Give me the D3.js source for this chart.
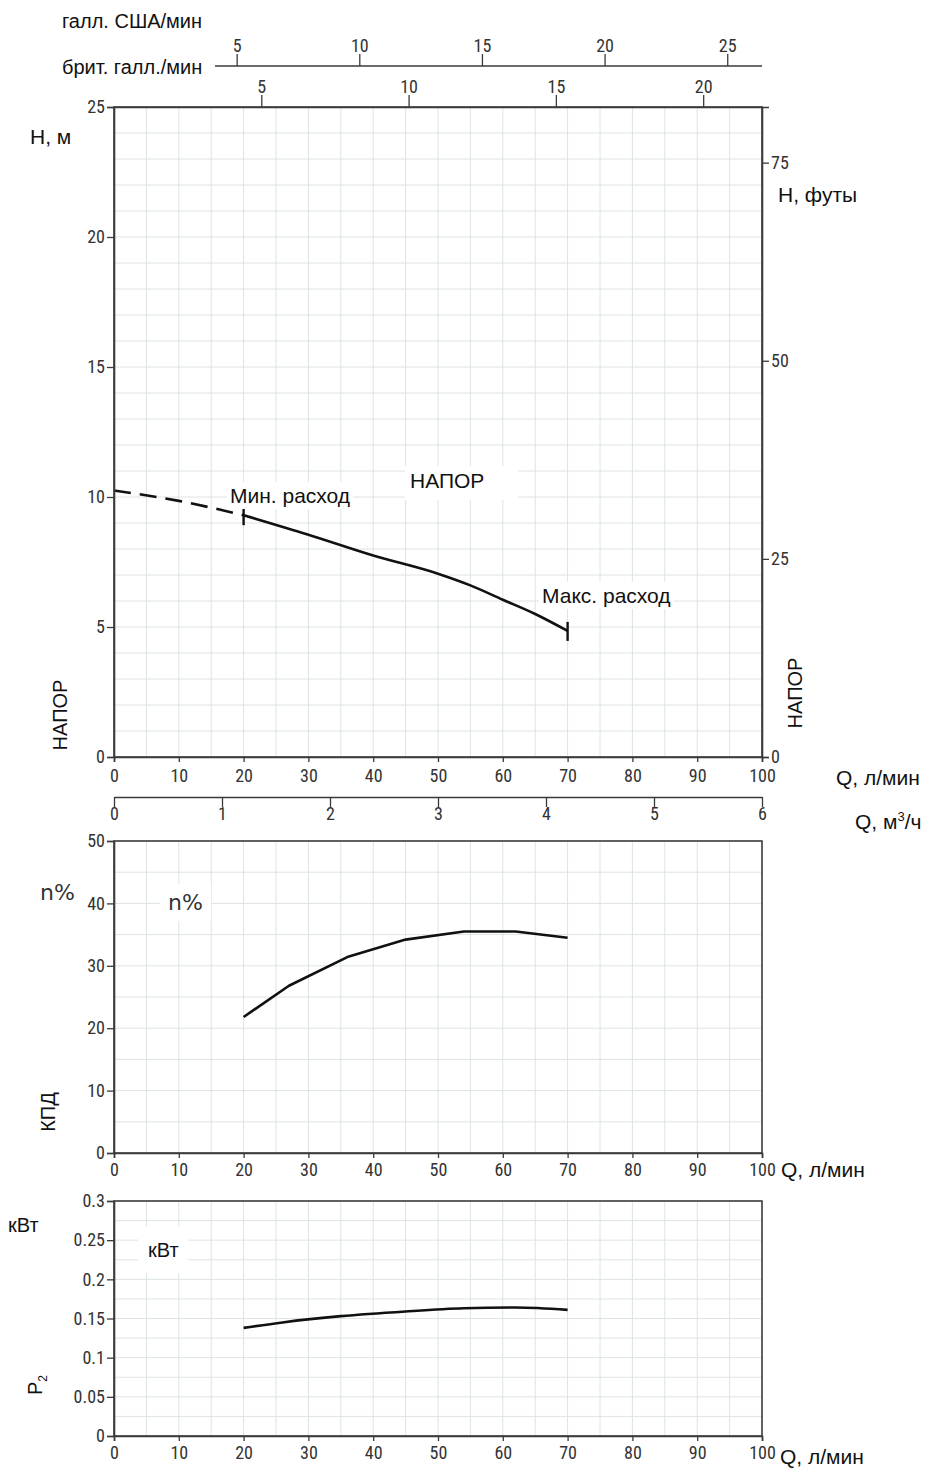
<!DOCTYPE html>
<html><head><meta charset="utf-8">
<script src="https://cdn.jsdelivr.net/npm/d3@7"></script>
<style>
body{margin:0;background:#fff;}
</style></head>
<body>
<script>
// ---- data ----
const headQ = [0, 10, 20, 30, 40, 50, 55, 60, 65, 70];
const headH = [10.25, 9.85, 9.3, 8.55, 7.75, 7.05, 6.6, 6.05, 5.5, 4.85];
const minFlowQ = 20;
const maxFlowQ = 70;
const effQ = [20, 27, 36, 45, 54, 62, 70];
const effVal = [21.8, 26.8, 31.4, 34.2, 35.5, 35.5, 34.5];
const powQ = [20, 26, 35, 45, 54, 62, 70];
const powVal = [0.138, 0.145, 0.153, 0.159, 0.163, 0.164, 0.161];
const qTicks = [0, 10, 20, 30, 40, 50, 60, 70, 80, 90, 100];
const m3Ticks = [0, 1, 2, 3, 4, 5, 6];
const usGalTicks = [5, 10, 15, 20, 25];
const ukGalTicks = [5, 10, 15, 20];
const hTicks = [0, 5, 10, 15, 20, 25];
const ftTicks = [0, 25, 50, 75];
const effTicks = [0, 10, 20, 30, 40, 50];
const powTicks = [0, 0.05, 0.1, 0.15, 0.2, 0.25, 0.3];

const W = 928, Hh = 1468;
const NUMF = "'Roboto Condensed','DejaVu Sans Condensed',sans-serif";
const LBLF = "'Liberation Sans',Arial,sans-serif";
const svg = d3.select("body").append("svg").attr("width", W).attr("height", Hh);

const x = d3.scaleLinear().domain([0, 100]).range([114, 762]);
const xM3 = d3.scaleLinear().domain([0, 6]).range([114, 762]);
const xUS = d3.scaleLinear().domain([0, 100 / 3.78541]).range([114, 762]);
const xUK = d3.scaleLinear().domain([0, 100 / 4.54609]).range([114, 762]);
const yH = d3.scaleLinear().domain([0, 25]).range([757, 107]);
const yFt = d3.scaleLinear().domain([0, 25 / 0.3048]).range([757, 107]);
const yE = d3.scaleLinear().domain([0, 50]).range([1153, 841]);
const yP = d3.scaleLinear().domain([0, 0.3]).range([1436, 1201]);

const gridColor = "#dde4e4";
const axisColor = "#3a3a3a";

function grid(yScale, yStep) {
  const g = svg.append("g");
  const [y0, y1] = yScale.domain();
  const vx = d3.range(5, 100, 5);
  g.selectAll(".gv").data(vx).join("line")
    .attr("x1", d => x(d)).attr("x2", d => x(d))
    .attr("y1", yScale(y0)).attr("y2", yScale(y1))
    .attr("stroke", gridColor).attr("stroke-width", 1);
  const n = Math.round((y1 - y0) / yStep);
  const hy = d3.range(1, n).map(i => y0 + i * yStep);
  g.selectAll(".gh").data(hy).join("line")
    .attr("x1", x(0)).attr("x2", x(100))
    .attr("y1", d => yScale(d)).attr("y2", d => yScale(d))
    .attr("stroke", gridColor).attr("stroke-width", 1);
}

function styleAxis(g) {
  g.attr("font-family", null).attr("font-size", null);
  g.selectAll("path.domain").attr("stroke", axisColor).attr("stroke-width", 1.6);
  g.selectAll(".tick line").attr("stroke", axisColor).attr("stroke-width", 1.3);
  g.selectAll(".tick text").attr("fill", "#333")
    .style("font-family", NUMF).style("font-size", "18px");
}

function frame(yScale) {
  const [y0, y1] = yScale.domain();
  svg.append("rect").attr("x", x(0)).attr("y", yScale(y1))
    .attr("width", x(100) - x(0)).attr("height", yScale(y0) - yScale(y1))
    .attr("fill", "none").attr("stroke", axisColor).attr("stroke-width", 1.6);
}

function label(text, lx, ly, size, opts = {}) {
  const t = svg.append("text").attr("x", lx).attr("y", ly)
    .style("font-family", opts.font || LBLF).style("font-size", size + "px")
    .attr("fill", "#111").text(text);
  if (opts.anchor) t.attr("text-anchor", opts.anchor);
  if (opts.rotate) t.attr("x", null).attr("y", null)
    .attr("transform", `translate(${lx},${ly}) rotate(-90)`);
  return t;
}

function labelBox(text, lx, ly, size, pad, opts = {}) {
  const t = label(text, lx, ly, size, opts);
  const bb = t.node().getBBox();
  svg.insert("rect", () => t.node())
    .attr("x", bb.x - pad[0]).attr("y", bb.y - pad[1])
    .attr("width", bb.width + 2 * pad[0]).attr("height", bb.height + 2 * pad[1])
    .attr("fill", "#fff");
  return t;
}

// ===== TOP: head =====
grid(yH, 1);
const lineH = d3.line().x(d => x(d[0])).y(d => yH(d[1])).curve(d3.curveMonotoneX);
const headPts = headQ.map((q, i) => [q, headH[i]]);
svg.append("path").datum(headPts.filter(d => d[0] <= minFlowQ)).attr("d", lineH)
  .attr("fill", "none").attr("stroke", "#111").attr("stroke-width", 2.6)
  .attr("stroke-dasharray", "17,9");
svg.append("path").datum(headPts.filter(d => d[0] >= minFlowQ)).attr("d", lineH)
  .attr("fill", "none").attr("stroke", "#111").attr("stroke-width", 2.6);
[[minFlowQ, headH[headQ.indexOf(minFlowQ)]], [maxFlowQ, headH[headQ.indexOf(maxFlowQ)]]].forEach(d => {
  svg.append("line").attr("x1", x(d[0])).attr("x2", x(d[0]))
    .attr("y1", yH(d[1]) - 9).attr("y2", yH(d[1]) + 10)
    .attr("stroke", "#111").attr("stroke-width", 2.4);
});
svg.append("rect").attr("x", 405).attr("y", 466).attr("width", 113).attr("height", 34).attr("fill", "#fff");
labelBox("Мин. расход", 230, 503, 21, [3, 2]);
labelBox("НАПОР", 410, 488, 21, [2, 2]);
labelBox("Макс. расход", 542, 603, 21, [3, 2]);
frame(yH);

const gL = svg.append("g").attr("transform", `translate(${x(0)},0)`)
  .call(d3.axisLeft(yH).tickValues(hTicks).tickSize(7).tickPadding(2));
styleAxis(gL);
const gR = svg.append("g").attr("transform", `translate(${x(100)},0)`)
  .call(d3.axisRight(yFt).tickValues(ftTicks).tickSize(7).tickPadding(2));
styleAxis(gR);
const gB = svg.append("g").attr("transform", `translate(0,${yH(0)})`)
  .call(d3.axisBottom(x).tickValues(qTicks).tickSize(5).tickPadding(7));
styleAxis(gB);
const gUK = svg.append("g").attr("transform", `translate(0,${yH(25)})`)
  .call(d3.axisTop(xUK).tickValues(ukGalTicks).tickSize(12).tickSizeOuter(0).tickPadding(2));
styleAxis(gUK);
const gUS = svg.append("g").attr("transform", `translate(0,66)`)
  .call(d3.axisTop(xUS).tickValues(usGalTicks).tickSize(12).tickSizeOuter(0).tickPadding(2));
styleAxis(gUS);
gUS.select("path.domain").attr("d", `M215,0H${x(100)}`);
const gM3 = svg.append("g").attr("transform", `translate(0,797)`)
  .call(d3.axisBottom(xM3).tickValues(m3Ticks).tickFormat(d3.format("d")).tickSize(10).tickSizeOuter(0).tickPadding(2));
styleAxis(gM3);
gM3.selectAll(".tick line").attr("y1", 0).attr("y2", 10);
gM3.selectAll(".tick text").attr("y", 10);

label("галл. США/мин", 62, 28, 20);
label("брит. галл./мин", 62, 74, 20);
label("H, м", 30, 144, 21);
label("H, футы", 778, 202, 21);
label("НАПОР", 67, 715, 20, { anchor: "middle", rotate: true });
label("НАПОР", 802, 693, 20, { anchor: "middle", rotate: true });
label("Q, л/мин", 836, 785, 21);
const qm = label("", 855, 829, 21);
qm.append("tspan").text("Q, м");
qm.append("tspan").attr("dy", -8).style("font-size", "13px").text("3");
qm.append("tspan").attr("dy", 8).text("/ч");

// ===== MIDDLE: efficiency =====
grid(yE, 5);
const lineE = d3.line().x(d => x(d[0])).y(d => yE(d[1]));
svg.append("path").datum(effQ.map((q, i) => [q, effVal[i]])).attr("d", lineE)
  .attr("fill", "none").attr("stroke", "#111").attr("stroke-width", 2.6).attr("stroke-linejoin", "round");
labelBox("n%", 168, 910, 22, [8, 6], { font: "'DejaVu Sans',sans-serif" }).attr("fill", "#333");
frame(yE);
const gEL = svg.append("g").attr("transform", `translate(${x(0)},0)`)
  .call(d3.axisLeft(yE).tickValues(effTicks).tickSize(7).tickPadding(2));
styleAxis(gEL);
const gEB = svg.append("g").attr("transform", `translate(0,${yE(0)})`)
  .call(d3.axisBottom(x).tickValues(qTicks).tickSize(5).tickPadding(5));
styleAxis(gEB);
label("n%", 40, 900, 22, { font: "'DejaVu Sans',sans-serif" }).attr("fill", "#333");
label("КПД", 55, 1112, 20, { anchor: "middle", rotate: true });
label("Q, л/мин", 781, 1177, 21);

// ===== BOTTOM: power =====
grid(yP, 0.025);
const lineP = d3.line().x(d => x(d[0])).y(d => yP(d[1])).curve(d3.curveMonotoneX);
svg.append("path").datum(powQ.map((q, i) => [q, powVal[i]])).attr("d", lineP)
  .attr("fill", "none").attr("stroke", "#111").attr("stroke-width", 2.6);
labelBox("кВт", 148, 1257, 20, [10, 12]);
frame(yP);
const gPL = svg.append("g").attr("transform", `translate(${x(0)},0)`)
  .call(d3.axisLeft(yP).tickValues(powTicks).tickSize(7).tickPadding(2).tickFormat(d => String(+d.toFixed(3))));
styleAxis(gPL);
const gPB = svg.append("g").attr("transform", `translate(0,${yP(0)})`)
  .call(d3.axisBottom(x).tickValues(qTicks).tickSize(5).tickPadding(5));
styleAxis(gPB);
label("кВт", 8, 1232, 20);
const p2 = label("", 42, 1385, 20, { anchor: "middle", rotate: true });
p2.append("tspan").text("P");
p2.append("tspan").attr("dy", 5).style("font-size", "12px").text("2");
label("Q, л/мин", 780, 1464, 21);
</script>
</body></html>
